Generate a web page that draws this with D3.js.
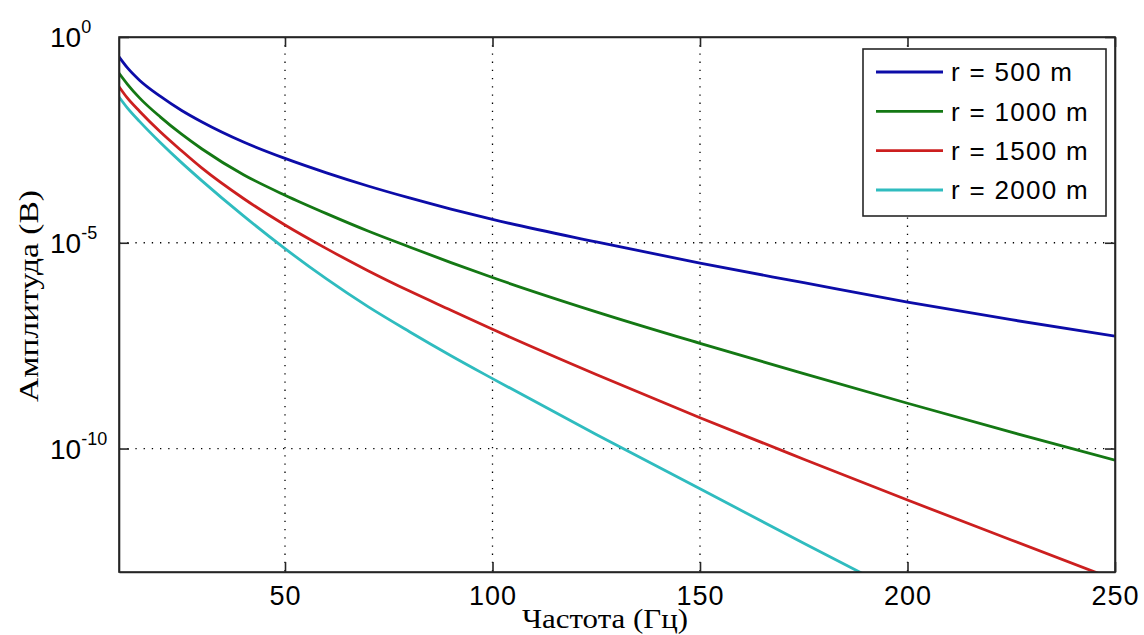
<!DOCTYPE html>
<html>
<head>
<meta charset="utf-8">
<script src="https://cdn.jsdelivr.net/npm/d3@7"></script>
<style>
  body { margin: 0; background: #fff; }
  .tick text { font-family: "Liberation Sans", Arial, sans-serif; }
</style>
</head>
<body>
<div id="chart"></div>
<script>
// frequency (Hz)
const freqs = [10, 12, 15, 20, 25, 30, 40, 50, 60, 70, 80, 90, 100, 125, 150, 175, 200, 225, 250];
// amplitude (V) for each distance
const amp500 = [3.3e-1, 1.8e-1, 8.8e-2, 3.6e-2, 1.66e-2, 8.6e-3, 2.8e-3, 1.12e-3, 5.0e-4, 2.4e-4, 1.23e-4, 6.6e-5, 3.7e-5,
  1.05e-5, 3.2e-6, 1.07e-6, 3.6e-7, 1.35e-7, 5.4e-8];
const amp1000 = [1.32e-1, 7.2e-2, 3.27e-2, 1.13e-2, 4.4e-3, 1.9e-3, 4.5e-4, 1.43e-4, 5.1e-5, 1.93e-5, 7.9e-6, 3.3e-6, 1.43e-6,
  2.1e-7, 3.6e-8, 6.6e-9, 1.26e-9, 2.5e-10, 5.2e-11];
const amp1500 = [6.2e-2, 3.3e-2, 1.55e-2, 4.9e-3, 1.74e-3, 6.5e-4, 1.19e-4, 2.7e-5, 7.2e-6, 2.1e-6, 6.7e-7, 2.3e-7, 7.9e-8,
  6.3e-9, 5.6e-10, 5.5e-11, 5.6e-12, 6.0e-13, 6.5e-14];
const amp2000 = [3.5e-2, 1.9e-2, 8.8e-3, 2.7e-3, 9.0e-4, 3.2e-4, 4.5e-5, 7.2e-6, 1.32e-6, 2.8e-7, 6.9e-8, 1.8e-8, 5.0e-9,
  2.2e-10, 1.05e-11, 5.0e-13, 2.5e-14];

const seriesNames = ['r = 500 m', 'r = 1000 m', 'r = 1500 m', 'r = 2000 m'];
const seriesValues = [amp500, amp1000, amp1500, amp2000];
const seriesColors = ['#0c0ca8', '#147814', '#cc1f1f', '#2fbcbf'];

const xTicks = [50, 100, 150, 200, 250];
const yTicks = [1e0, 1e-5, 1e-10];
const yTickExp = ['0', '-5', '-10'];

const xLabel = 'Частота (Гц)';
const yLabel = 'Амплитуда (В)';

// svg area
const svgWidth = 1144;
const svgHeight = 635;
const svg = d3.select('#chart')
  .append('svg')
  .attr('width', svgWidth)
  .attr('height', svgHeight);

const margin = { top: 37, right: 29, bottom: 63, left: 119 };
const width = svgWidth - margin.left - margin.right;
const height = svgHeight - margin.top - margin.bottom;
const graph = svg.append('g')
  .attr('transform', `translate(${margin.left},${margin.top})`);

// scales
const xScale = d3.scaleLinear().domain([10, 250]).range([0, width]);
const yScale = d3.scaleLog().domain([1e-13, 1]).range([height, 0]);

// grid (dotted)
graph.append('g')
  .selectAll('line')
  .data(xTicks.filter(d => d < 250))
  .join('line')
  .attr('x1', d => xScale(d)).attr('x2', d => xScale(d))
  .attr('y1', 0).attr('y2', height)
  .attr('stroke', '#000')
  .attr('stroke-width', 1.3)
  .attr('stroke-dasharray', '1.3,6.9');
graph.append('g')
  .selectAll('line')
  .data(yTicks.filter(d => d < 1))
  .join('line')
  .attr('x1', 0).attr('x2', width)
  .attr('y1', d => yScale(d)).attr('y2', d => yScale(d))
  .attr('stroke', '#000')
  .attr('stroke-width', 1.3)
  .attr('stroke-dasharray', '1.3,6.9');

// lines
graph.append('clipPath').attr('id', 'clip')
  .append('rect').attr('width', width).attr('height', height);

const line = d3.line()
  .x(d => xScale(d[0]))
  .y(d => yScale(d[1]))
  .curve(d3.curveMonotoneX);

graph.append('g')
  .attr('clip-path', 'url(#clip)')
  .selectAll('path')
  .data(seriesValues)
  .join('path')
  .attr('d', vals => line(vals.map((v, i) => [freqs[i], v])))
  .attr('fill', 'none')
  .attr('stroke', (d, i) => seriesColors[i])
  .attr('stroke-width', 2.8);

// axes
const axisColor = '#262626';
const xAxis = graph.append('g')
  .attr('transform', `translate(0,${height})`)
  .call(d3.axisBottom(xScale).tickValues(xTicks).tickSizeInner(-10).tickSizeOuter(0).tickPadding(14));
xAxis.selectAll('text')
  .attr('font-size', 27)
  .attr('letter-spacing', 1)
  .attr('fill', '#000');

const xAxisTop = graph.append('g')
  .call(d3.axisTop(xScale).tickValues(xTicks).tickSizeInner(-10).tickSizeOuter(0).tickFormat(''));

const yAxis = graph.append('g')
  .call(d3.axisLeft(yScale).tickValues(yTicks).tickSizeInner(-10).tickSizeOuter(0).tickFormat(''));

const yAxisRight = graph.append('g')
  .attr('transform', `translate(${width},0)`)
  .call(d3.axisRight(yScale).tickValues(yTicks).tickSizeInner(-10).tickSizeOuter(0).tickFormat(''));

[xAxis, xAxisTop, yAxis, yAxisRight].forEach(a => {
  a.select('.domain').attr('stroke', axisColor).attr('stroke-width', 1.6);
  a.selectAll('.tick line').attr('stroke', axisColor).attr('stroke-width', 1.6);
});

// y tick labels 10^n
const yLab = svg.append('g')
  .selectAll('text')
  .data(yTicks)
  .join('text')
  .attr('x', 50)
  .attr('y', d => margin.top + yScale(d) + 10)
  .attr('font-family', '"Liberation Sans", Arial, sans-serif')
  .attr('font-size', 28)
  .attr('fill', '#000');
yLab.append('tspan').text('10');
yLab.append('tspan')
  .attr('dy', -14)
  .attr('font-size', 18)
  .text((d, i) => yTickExp[i]);

// box
graph.append('rect')
  .attr('width', width).attr('height', height)
  .attr('fill', 'none')
  .attr('stroke', axisColor)
  .attr('stroke-width', 1.6);

// axis labels
svg.append('text')
  .attr('x', 605)
  .attr('y', 628)
  .attr('text-anchor', 'middle')
  .attr('font-family', '"Liberation Serif", "Times New Roman", serif')
  .attr('font-size', 28)
  .attr('textLength', 166)
  .attr('lengthAdjust', 'spacingAndGlyphs')
  .text(xLabel);

svg.append('text')
  .attr('transform', 'translate(38,296) rotate(-90)')
  .attr('text-anchor', 'middle')
  .attr('font-family', '"Liberation Serif", "Times New Roman", serif')
  .attr('font-size', 27)
  .attr('textLength', 212)
  .attr('lengthAdjust', 'spacingAndGlyphs')
  .text(yLabel);

// legend
const legend = svg.append('g').attr('transform', 'translate(863,49)');
legend.append('rect')
  .attr('width', 243).attr('height', 167)
  .attr('fill', '#fff')
  .attr('stroke', axisColor)
  .attr('stroke-width', 1.6);
const rowY = d3.scaleLinear().domain([0, 3]).range([23, 141]);
const item = legend.selectAll('g.item')
  .data(seriesNames)
  .join('g')
  .attr('class', 'item')
  .attr('transform', (d, i) => `translate(0,${rowY(i)})`);
item.append('line')
  .attr('x1', 13).attr('x2', 80)
  .attr('stroke', (d, i) => seriesColors[i])
  .attr('stroke-width', 2.8);
item.append('text')
  .attr('x', 88)
  .attr('dy', '0.36em')
  .attr('font-family', '"Liberation Sans", Arial, sans-serif')
  .attr('font-size', 26)
  .attr('letter-spacing', 1.3)
  .attr('fill', '#000')
  .text(d => d);
</script>
</body>
</html>
